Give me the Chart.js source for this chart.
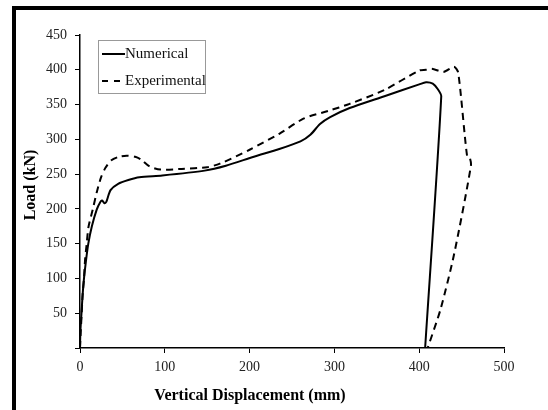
<!DOCTYPE html>
<html>
<head>
<meta charset="utf-8">
<script src="https://cdn.jsdelivr.net/npm/chart.js@4"></script>
<style>
  html, body { margin: 0; padding: 0; background: #fff; }
</style>
</head>
<body>
<canvas id="loadChart" width="548" height="410"></canvas>
<script>
// curve data (displacement in mm, load in kN)
const numericalX = [0, 0.5, 1.5, 3, 4.7, 7, 9.8, 14, 19.7, 24, 26, 29, 31, 36, 45, 57, 70, 97, 147, 172, 205, 235, 260, 272, 283, 295, 318, 359, 400, 408, 416, 422, 426, 407];
const numericalY = [0, 25, 45, 75, 100, 125, 150, 175, 199, 210, 212, 208, 210, 227, 236, 241.5, 245.5, 248, 255, 262, 275, 286, 297, 307, 322, 332, 345, 362, 379, 382, 380, 372, 362, 0];
const experimentalX = [0, 0.8, 2, 3, 4.7, 6, 7.9, 10, 15, 20, 25, 30, 37, 46, 55, 65, 72, 82, 95, 120, 150, 165, 200, 235, 264, 293, 318, 359, 400, 408, 415, 429, 441, 446, 456.5, 459.6, 461, 441, 425, 410];
const experimentalY = [0, 22, 50, 75, 100, 127, 150, 174, 199, 225, 246, 259, 270, 275, 276.5, 275, 271, 261, 256.5, 257.5, 260, 265, 285, 308, 330, 341, 351, 371, 399, 400, 401.5, 397, 404.5, 396, 275.5, 273.5, 262, 134, 55, 0];
const xTicks = [0, 100, 200, 300, 400, 500];
const yTicks = [50, 100, 150, 200, 250, 300, 350, 400, 450];

const serif = "'Liberation Serif', 'Times New Roman', serif";

function toPoints(xs, ys) {
    return xs.map((x, i) => ({ x: x, y: ys[i] }));
}

// black frame on the left and top edge
const framePlugin = {
    id: 'frame',
    beforeDraw(chart) {
        const c = chart.ctx;
        c.save();
        c.fillStyle = '#fff';
        c.fillRect(0, 0, chart.width, chart.height);
        c.fillStyle = '#000';
        c.fillRect(12, 6, 4, chart.height - 6);
        c.fillRect(12, 6, chart.width - 12, 4);
        c.restore();
    }
};

// axis titles and boxed legend
const textPlugin = {
    id: 'texts',
    afterDraw(chart) {
        const c = chart.ctx;
        c.save();
        c.fillStyle = '#000';
        c.font = "bold 16px " + serif;
        c.textAlign = 'center';
        c.textBaseline = 'middle';
        c.fillText('Vertical Displacement (mm)', 250, 396);
        c.translate(31, 185);
        c.rotate(-Math.PI / 2);
        c.fillText('Load (kN)', 0, 0);
        c.restore();

        // legend
        c.save();
        c.strokeStyle = '#999';
        c.lineWidth = 1;
        c.strokeRect(98.5, 40.5, 107, 53);
        c.strokeStyle = '#000';
        c.lineWidth = 2;
        c.beginPath();
        c.moveTo(102, 54);
        c.lineTo(125, 54);
        c.stroke();
        c.setLineDash([6, 6]);
        c.beginPath();
        c.moveTo(102, 81);
        c.lineTo(125, 81);
        c.stroke();
        c.setLineDash([]);
        c.fillStyle = '#111';
        c.font = "15px " + serif;
        c.textAlign = 'left';
        c.textBaseline = 'middle';
        c.fillText('Numerical', 125, 54);
        c.fillText('Experimental', 125, 81);
        c.restore();
    }
};

const ctx = document.getElementById('loadChart').getContext('2d');

new Chart(ctx, {
    type: 'line',
    data: {
        datasets: [
            {
                label: 'Numerical',
                data: toPoints(numericalX, numericalY),
                borderColor: '#000',
                borderWidth: 2,
                pointRadius: 0,
                fill: false,
                tension: 0.25
            },
            {
                label: 'Experimental',
                data: toPoints(experimentalX, experimentalY),
                borderColor: '#000',
                borderWidth: 2,
                borderDash: [7, 5],
                pointRadius: 0,
                fill: false,
                tension: 0.25
            }
        ]
    },
    options: {
        responsive: false,
        animation: false,
        devicePixelRatio: 1,
        layout: {
            padding: { left: 0, top: 35, right: 44, bottom: 0 }
        },
        scales: {
            x: {
                type: 'linear',
                min: 0,
                max: 500,
                afterFit(scale) { scale.height = 62; },
                afterBuildTicks(scale) { scale.ticks = xTicks.map(v => ({ value: v })); },
                ticks: {
                    color: '#222',
                    padding: 6,
                    font: { family: serif, size: 14 },
                    maxRotation: 0
                },
                grid: {
                    drawOnChartArea: false,
                    tickLength: 5,
                    color: '#000'
                },
                border: { color: '#000', width: 1.5 }
            },
            y: {
                min: 0,
                max: 450,
                afterFit(scale) { scale.width = 80; },
                afterBuildTicks(scale) { scale.ticks = [0].concat(yTicks).map(v => ({ value: v })); },
                ticks: {
                    color: '#222',
                    padding: 8,
                    font: { family: serif, size: 14 },
                    callback: v => (yTicks.includes(v) ? v : '')
                },
                grid: {
                    drawOnChartArea: false,
                    tickLength: 5,
                    color: '#000'
                },
                border: { color: '#000', width: 1.5 }
            }
        },
        plugins: {
            legend: { display: false },
            title: { display: false },
            tooltip: { enabled: false }
        }
    },
    plugins: [framePlugin, textPlugin]
});
</script>
</body>
</html>
